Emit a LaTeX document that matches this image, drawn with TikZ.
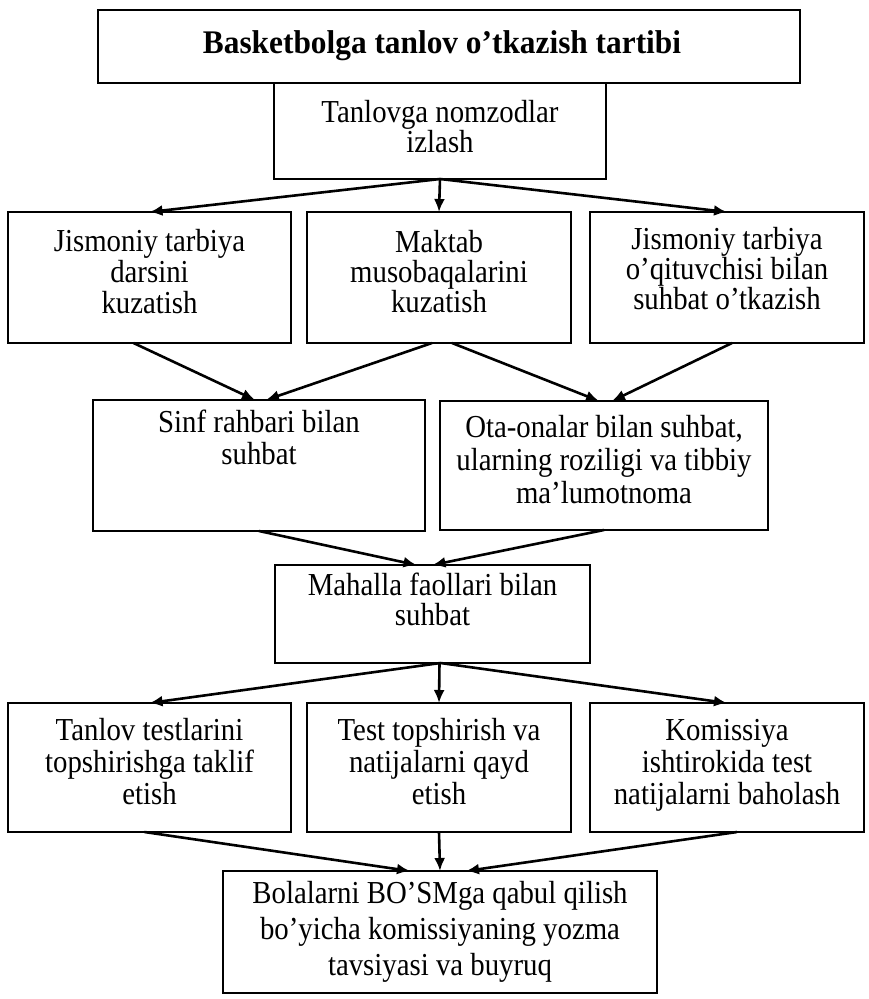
\documentclass[tikz,border=0pt]{standalone}
\usepackage{fontspec}
\setmainfont[FakeStretch=0.9]{Liberation Serif}
\newfontfamily\titlefont[FakeStretch=0.95]{Liberation Serif}
\usetikzlibrary{arrows.meta}
\newcommand{\bx}[5]{\parbox[t][#2pt][t]{#1pt}{\centering\fontsize{32}{#4}\selectfont\rule{0pt}{#3pt}#5\par}}
\begin{document}
\begin{tikzpicture}[x=1pt,y=-1pt,
  box/.style={draw, line width=1.8pt, inner sep=0pt, outer sep=0pt, anchor=north west},
  arr/.style={line width=2.6pt, -{Latex[length=13pt,width=11pt]}}]
\useasboundingbox (0,0) rectangle (869,999);
\node[box] (title) at (98,10) {\parbox[t][73pt][t]{702pt}{\centering\titlefont\fontsize{33}{38}\selectfont\bfseries\rule{0pt}{43pt}Basketbolga tanlov o’tkazish tartibi\hspace*{14pt}\par}};
\node[box] (search) at (274,83) {\bx{332}{96}{39}{30}{Tanlovga nomzodlar\\izlash}};
\node[box] (A) at (8,212) {\bx{283}{131}{39}{31}{Jismoniy tarbiya\\darsini\\kuzatish}};
\node[box] (B) at (307,212) {\bx{264}{131}{40}{30}{Maktab\\musobaqalarini\\kuzatish}};
\node[box] (C) at (590,212) {\bx{274}{131}{37}{30}{Jismoniy tarbiya\\o’qituvchisi bilan\\suhbat o’tkazish}};
\node[box] (sinf) at (93,400) {\bx{332}{131}{32}{32}{Sinf rahbari bilan\\suhbat}};
\node[box] (ota) at (440,401) {\bx{328}{129}{36}{33}{Ota-onalar bilan suhbat,\\ularning roziligi va tibbiy\\ma’lumotnoma}};
\node[box] (mah) at (275,565) {\bx{315}{98}{30}{30}{Mahalla faollari bilan\\suhbat}};
\node[box] (A2) at (8,703) {\bx{283}{129}{37}{32}{Tanlov testlarini\\topshirishga taklif\\etish}};
\node[box] (B2) at (307,703) {\bx{264}{129}{37}{32}{Test topshirish va\\natijalarni qayd\\etish}};
\node[box] (C2) at (590,703) {\bx{274}{129}{37}{32}{Komissiya\\ishtirokida test\\natijalarni baholash}};
\node[box] (final) at (223,871) {\bx{434}{122}{32}{36}{Bolalarni BO’SMga qabul qilish\\bo’yicha komissiyaning yozma\\tavsiyasi va buyruq}};
\draw[arr] (search.south) -- (A.north);
\draw[arr] (search.south) -- (B.north);
\draw[arr] (search.south) -- (C.north);
\draw[arr] ([xshift=-16pt]A.south) -- ([xshift=-4pt]sinf.north);
\draw[arr] ([xshift=-7pt]B.south) -- ([xshift=7pt]sinf.north);
\draw[arr] ([xshift=13pt]B.south) -- ([xshift=-5pt]ota.north);
\draw[arr] ([xshift=5pt]C.south) -- ([xshift=8pt]ota.north);
\draw[arr] (sinf.south) -- ([xshift=-16pt]mah.north);
\draw[arr] (ota.south) -- (mah.north);
\draw[arr] ([xshift=8pt]mah.south) -- (A2.north);
\draw[arr] ([xshift=7pt]mah.south) -- (B2.north);
\draw[arr] ([xshift=8pt]mah.south) -- (C2.north);
\draw[arr] ([xshift=-5pt]A2.south) -- ([xshift=-30pt]final.north);
\draw[arr] (B2.south) -- (final.north);
\draw[arr] ([xshift=10pt]C2.south) -- ([xshift=26pt]final.north);
\end{tikzpicture}
\end{document}
